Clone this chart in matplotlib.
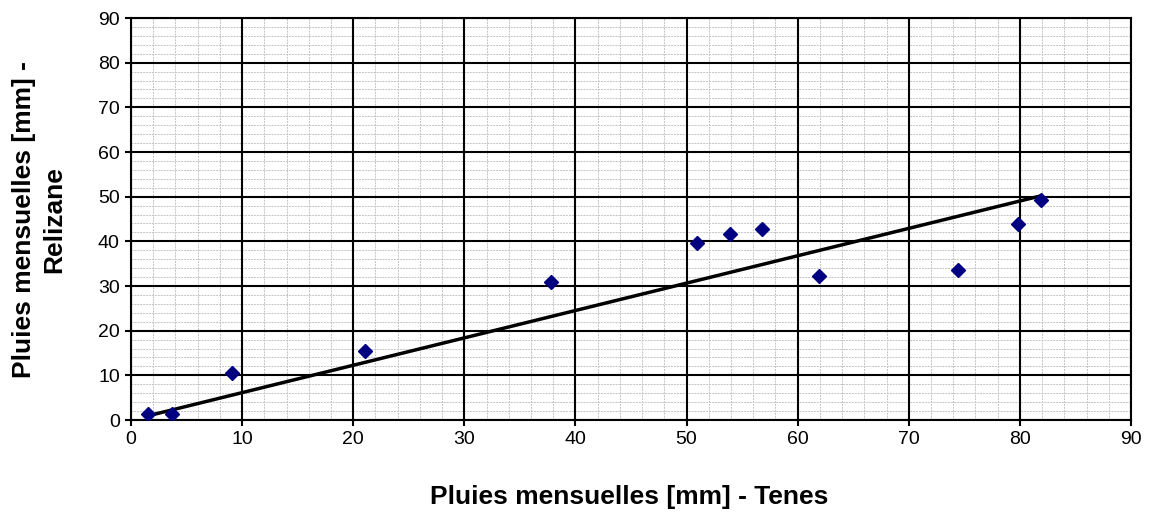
import matplotlib
matplotlib.use('Agg')
import matplotlib.pyplot as plt
import numpy as np

plt.rcParams['font.family'] = ['Liberation Sans', 'DejaVu Sans']

# monthly rainfall, Tenes vs Relizane
tenes = [1.5, 3.7, 9.1, 21.1, 37.8, 50.9, 53.9, 56.8, 61.9, 74.4, 79.8, 81.9]
relizane = [1.3, 1.3, 10.5, 15.4, 30.9, 39.6, 41.6, 42.8, 32.2, 33.6, 43.9, 49.2]

x = np.array(tenes)
y = np.array(relizane)
# trend line forced through the origin
slope = np.sum(x * y) / np.sum(x * x)
xl = np.array([x.min(), x.max()])

fig = plt.figure(figsize=(11.57, 5.16), dpi=100)
ax = fig.add_axes([0.1132, 0.186, 0.8643, 0.7791])

ax.set_xlim(0, 90)
ax.set_ylim(0, 90)
major = np.arange(0, 91, 10)
ax.set_xticks(major)
ax.set_yticks(major)
minor = [v for v in range(0, 91, 2) if v % 10 != 0]
ax.set_xticks(minor, minor=True)
ax.set_yticks(minor, minor=True)
ax.grid(which='minor', color='#c4c4c4', linestyle=(0, (2, 1)), linewidth=0.7)
ax.set_axisbelow(True)
# major grid drawn on top of the minor one
for v in major:
    ax.axvline(v, color='black', linewidth=1.5, zorder=1)
    ax.axhline(v, color='black', linewidth=1.5, zorder=1)

ax.plot(xl, slope * xl, color='black', linewidth=2.5, zorder=3)
ax.plot(x, y, linestyle='none', marker='D', color='#000080', markersize=7.5, zorder=4)

for s in ax.spines.values():
    s.set_linewidth(1.5)
ax.tick_params(which='major', direction='out', length=4.5, width=1.5, labelsize=14)
ax.tick_params(which='minor', length=0)

fig.text(629 / 1157, 1 - 497 / 516, 'Pluies mensuelles [mm] - Tenes', fontsize=19,
         fontweight='bold', ha='center', va='center')
fig.text(39 / 1157, 1 - 220 / 516, 'Pluies mensuelles [mm] -\nRelizane', fontsize=19,
         fontweight='bold', ha='center', va='center', rotation=90,
         multialignment='center', linespacing=1.35)

fig.savefig('out.png', dpi=100)
plt.close(fig)
